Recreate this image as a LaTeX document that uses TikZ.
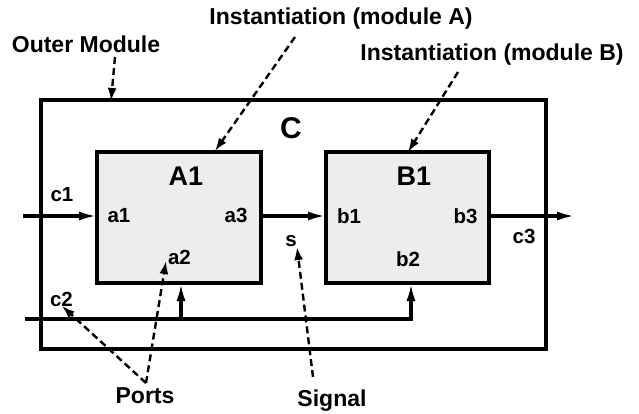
\documentclass[tikz,border=0pt]{standalone}
\usepackage{fontspec}
\setmainfont{Liberation Sans}
\usetikzlibrary{arrows.meta}
\definecolor{boxfill}{RGB}{237,237,237}
\newcommand\myAnnFont{\fontsize{23}{27}\selectfont\bfseries}
\newcommand\myPortFont{\fontsize{20.5}{24}\selectfont\bfseries}
\newcommand\myModFont{\fontsize{27}{31}\selectfont\bfseries}
\newcommand\myTopFont{\fontsize{30}{34}\selectfont\bfseries}
\begin{document}
\begin{tikzpicture}[x=1pt,y=-1pt,
  boxbase/.style={draw, line width=3.2pt, inner sep=0pt, outer sep=0pt},
  modbox/.style={boxbase, fill=boxfill},
  sig/.style={line width=3.2pt, -{Latex[length=18pt,width=9pt]}},
  ann/.style={line width=2.4pt, dash pattern=on 7pt off 4pt, -{Latex[length=13pt,width=9pt]}},
  anntxt/.style={anchor=base, inner sep=0pt, font=\myAnnFont},
  porttxt/.style={anchor=base, inner sep=0pt, font=\myPortFont},
  modtxt/.style={anchor=base, inner sep=0pt, font=\myModFont}]
\useasboundingbox (0,0) rectangle (639,413);

% boxes
\node[boxbase, minimum width=505pt, minimum height=249pt] (C) at (293.5,224.5) {};
\node[modbox, minimum width=164pt, minimum height=131pt] (A1) at (179,217.5) {};
\node[modbox, minimum width=163pt, minimum height=131pt] (B1) at (407.5,217.5) {};

% titles
\node[anchor=base, inner sep=0pt, font=\myTopFont] (Ct) at (291,138) {C};
\node[modtxt] (A1t) at (186,185) {A1};
\node[modtxt] (B1t) at (414,185) {B1};

% port labels
\node[porttxt] (c1) at (62,201) {c1};
\node[porttxt] (a1) at (119,222) {a1};
\node[porttxt] (a3) at (236,222) {a3};
\node[porttxt] (b1) at (349,223) {b1};
\node[porttxt] (b3) at (465.5,223) {b3};
\node[porttxt] (c3) at (524,243) {c3};
\node[porttxt] (b2) at (408,266) {b2};
\node[porttxt] (a2) at (179.5,264) {a2};
\node[porttxt] (s) at (291,246) {s};
\node[porttxt] (c2) at (61.5,306) {c2};

% annotation labels
\node[anntxt] (om) at (86,52) {Outer Module};
\node[anntxt] (ia) at (341,24) {Instantiation (module A)};
\node[anntxt] (ib) at (492,60) {Instantiation (module B)};
\node[anntxt] (ports) at (145,403) {Ports};
\node[anntxt] (signal) at (332,406) {Signal};

% signal coordinates
\coordinate (row) at (0,216);
\coordinate (cin) at (23,216);
\coordinate (cout) at (575,216);
\coordinate (busL) at (25,319);
\coordinate (busR) at (411,319);
\coordinate (b2in) at (411,283);
\coordinate (abr) at (181,319);
\coordinate (a2in) at (181,283);

\draw[sig] (cin) -- (A1.west |- row);
\draw[sig] (A1.east |- row) -- (B1.west |- row);
\draw[sig] (B1.east |- row) -- (cout);
\draw[sig] (busL) -- (busR) -- (b2in);
\draw[sig] (abr) -- (a2in);

% annotation coordinates
\coordinate (omT) at (115,57);
\coordinate (omH) at (111,101);
\coordinate (iaT) at (295,37);
\coordinate (iaH) at (215,151);
\coordinate (ibT) at (458,72);
\coordinate (ibH) at (408,152);
\coordinate (pJ) at (146,383);
\coordinate (c2H) at (62,306);
\coordinate (a2H) at (166,261);
\coordinate (sT) at (313,377);
\coordinate (sH) at (297,247);

\draw[ann] (omT) -- (omH);
\draw[ann] (iaT) -- (iaH);
\draw[ann] (ibT) -- (ibH);
\draw[ann] (pJ) -- (c2H);
\draw[ann] (pJ) -- (a2H);
\draw[ann] (sT) -- (sH);
\end{tikzpicture}
\end{document}
